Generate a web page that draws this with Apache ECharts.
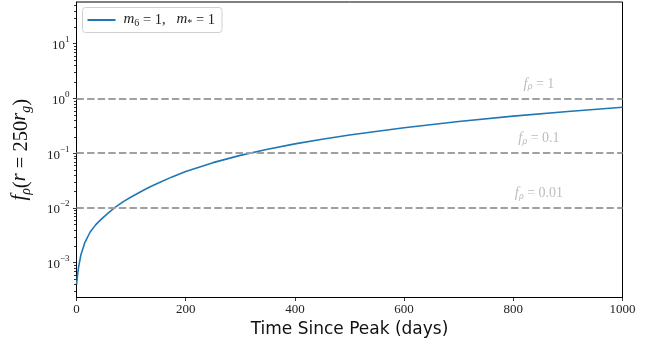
<!DOCTYPE html>
<html>
<head>
<meta charset="utf-8">
<script src="https://cdn.jsdelivr.net/npm/echarts@6/dist/echarts.min.js"></script>
<style>html,body{margin:0;padding:0;background:#fff;}#c{width:659px;height:353px;}</style>
</head>
<body>
<div id="c"></div>
<script>
// ---- data ----
const timeDays = [0, 2, 4, 8, 15, 25, 35, 45, 60, 70, 85, 100, 120, 135, 150, 175, 200, 250, 300, 350, 400, 450, 500, 600, 700, 800, 900, 1000];
const fRho = [3.98e-4, 6.03e-4, 8.51e-4, 1.38e-3, 2.29e-3, 3.63e-3, 4.90e-3, 6.17e-3, 8.41e-3, 0.0101, 0.0129, 0.0158, 0.0204, 0.0243, 0.0285, 0.0369, 0.0462, 0.0672, 0.0912, 0.118, 0.148, 0.180, 0.215, 0.292, 0.379, 0.475, 0.579, 0.692];
const refLevels = [1, 0.1, 0.01];
const refLabels = ['1', '0.1', '0.01'];
const xTicks = [0, 200, 400, 600, 800, 1000];
const yMajorExps = [-3, -2, -1, 0, 1];
const yMinorTicks = [3e-4,4e-4,5e-4,6e-4,7e-4,8e-4,9e-4,
  2e-3,3e-3,4e-3,5e-3,6e-3,7e-3,8e-3,9e-3,
  0.02,0.03,0.04,0.05,0.06,0.07,0.08,0.09,
  0.2,0.3,0.4,0.5,0.6,0.7,0.8,0.9,
  2,3,4,5,6,7,8,9,20,30,40,50];
const yMin = 2.31e-4, yMax = 57.8;

const serif = '"Liberation Serif", "DejaVu Serif", serif';
const chart = echarts.init(document.getElementById('c'));
const data = timeDays.map((t, i) => [t, fRho[i]]);

chart.setOption({
  animation: false,
  grid: { left: 76.5, right: 36.5, top: 2, bottom: 55.5, show: true, borderColor: '#000', borderWidth: 1 },
  legend: {
    data: [{ name: 'main', icon: 'rect' }],
    left: 82.5, top: 7.5,
    padding: [4, 7, 4, 5],
    borderColor: '#d0d0d0', borderWidth: 1, borderRadius: 3,
    itemWidth: 28, itemHeight: 2, itemGap: 8,
    formatter: () => '{i|m}{s|6} = 1,   {i|m}{s|*} = 1',
    textStyle: {
      fontFamily: serif, fontSize: 14.5, color: '#222', padding: [0, 0, 0, 3],
      rich: {
        i: { fontFamily: serif, fontStyle: 'italic', fontSize: 15, color: '#222', lineHeight: 17, verticalAlign: 'top' },
        s: { fontFamily: serif, fontSize: 10, color: '#222', lineHeight: 10, verticalAlign: 'bottom' }
      }
    }
  },
  xAxis: {
    type: 'value', min: 0, max: 1000, interval: 200,
    name: 'Time Since Peak (days)', nameLocation: 'middle', nameGap: 22,
    nameTextStyle: { fontFamily: '"DejaVu Sans", sans-serif', fontSize: 17, color: '#111' },
    axisLine: { show: true, lineStyle: { color: '#000', width: 1 } },
    axisTick: { show: true, length: 3.5, lineStyle: { color: '#000', width: 0.8 } },
    axisLabel: { fontFamily: serif, fontSize: 13, color: '#222', margin: 6,
      formatter: v => xTicks.indexOf(v) >= 0 ? String(v) : '' },
    splitLine: { show: false }
  },
  yAxis: {
    type: 'log', logBase: 10, min: yMin, max: yMax,
    name: '{i|f}{s|ρ}({i|r} = 250{i|r}{s|g})', nameLocation: 'middle', nameGap: 43, nameRotate: 90,
    nameTextStyle: {
      fontFamily: serif, fontSize: 20.5, color: '#111',
      rich: {
        i: { fontFamily: serif, fontStyle: 'italic', fontSize: 20.5, color: '#111', lineHeight: 24, verticalAlign: 'top' },
        s: { fontFamily: serif, fontStyle: 'italic', fontSize: 14, color: '#111', lineHeight: 14, verticalAlign: 'bottom' }
      }
    },
    axisLine: { show: true, lineStyle: { color: '#000', width: 1 } },
    axisTick: { show: true, length: 3.5, lineStyle: { color: '#000', width: 0.8 } },
    axisLabel: {
      margin: 7, showMinLabel: false, showMaxLabel: false,
      formatter: v => {
        const e = Math.round(Math.log10(v));
        if (Math.abs(Math.log10(v) - e) > 1e-6 || yMajorExps.indexOf(e) < 0) return '';
        return '{b|10}{p|' + (e < 0 ? '\u2212' + (-e) : e) + '}';
      },
      rich: {
        b: { fontFamily: serif, fontSize: 13, color: '#222', lineHeight: 17, verticalAlign: 'bottom' },
        p: { fontFamily: serif, fontSize: 9, color: '#222', lineHeight: 10, verticalAlign: 'top' }
      }
    },
    splitLine: { show: false }
  },
  series: [
    {
      name: 'main', type: 'line', data: data, showSymbol: false, symbol: 'none',
      smooth: false,
      lineStyle: { color: '#1f77b4', width: 1.6 }, itemStyle: { color: '#1f77b4' }, z: 3,
      markLine: {
        silent: true, symbol: 'none', label: { show: false },
        lineStyle: { color: '#a0a0a0', width: 2, type: [7.4, 3.2] },
        data: refLevels.map(v => ({ yAxis: v }))
      },
      markPoint: {
        silent: true, symbol: 'circle', symbolSize: 0,
        label: {
          show: true, position: 'top', distance: 7,
          formatter: p => '{i|f}{s|ρ} = ' + refLabels[p.dataIndex],
          fontFamily: serif, fontSize: 14, color: '#bdbdbd',
          rich: {
            i: { fontFamily: serif, fontStyle: 'italic', fontSize: 14.5, color: '#bdbdbd', lineHeight: 15, verticalAlign: 'top' },
            s: { fontFamily: serif, fontStyle: 'italic', fontSize: 10, color: '#bdbdbd', lineHeight: 9, verticalAlign: 'bottom' }
          }
        },
        data: refLevels.map(v => ({ coord: [847, v] }))
      }
    },
    {
      name: 'minor', type: 'custom', silent: true, clip: false, z: 10,
      coordinateSystem: 'cartesian2d',
      data: yMinorTicks.map(v => [0, v]),
      renderItem: (params, api) => {
        const p = api.coord([api.value(0), api.value(1)]);
        const y = Math.round(p[1]) + 0.5;
        return { type: 'line', shape: { x1: p[0] - 2.5, y1: y, x2: p[0], y2: y },
          style: { stroke: '#000', lineWidth: 0.8 } };
      }
    }
  ]
});
</script>
</body>
</html>
